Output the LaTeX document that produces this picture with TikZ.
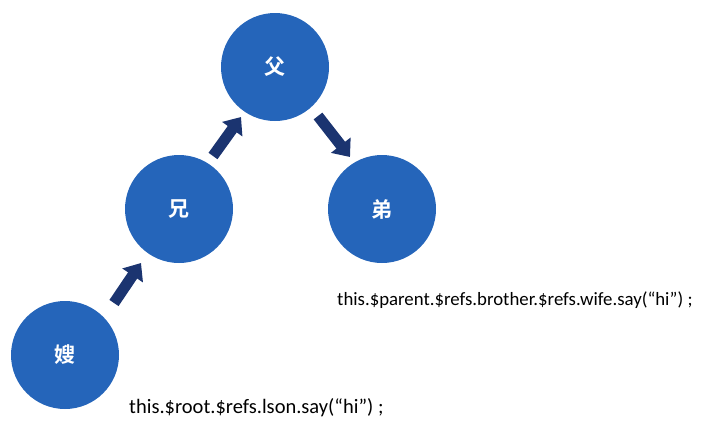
\documentclass[tikz,border=0pt]{standalone}
\usepackage{fontspec}
\setmainfont{Carlito}
\newfontfamily\cjk{Noto Sans CJK SC}[BoldFont={* Bold}]
\usetikzlibrary{arrows.meta}
\definecolor{circblue}{RGB}{37,101,186}
\definecolor{arrnavy}{RGB}{27,52,112}
\tikzset{
  person/.style={circle, fill=circblue, minimum size=108pt, inner sep=0pt, text=white, font=\cjk\bfseries\fontsize{21}{24}\selectfont},
  bigarrow/.style={draw=arrnavy, line width=11pt, -{Triangle[length=15pt 0 0,width=24pt 0 0]}},
  code/.style={anchor=west, inner sep=0pt}
}
\begin{document}
\begin{tikzpicture}[x=1pt,y=1pt]
\useasboundingbox (0,0) rectangle (701,-432);
\node[person] (fu) at (275,-67) {父};
\node[person] (xiong) at (179,-209) {兄};
\node[person] (di) at (382,-209) {弟};
\node[person] (sao) at (65,-355) {嫂};
\coordinate (a1s) at (114,-303);
\coordinate (a1e) at (141,-263);
\coordinate (a2s) at (213,-156);
\coordinate (a2e) at (241,-117);
\coordinate (a3s) at (318,-116);
\coordinate (a3e) at (350,-157);
\draw[bigarrow] (a1s) -- (a1e);
\draw[bigarrow] (a2s) -- (a2e);
\draw[bigarrow] (a3s) -- (a3e);
\node[code, font=\fontsize{18.8}{22}\selectfont] (t1) at (337,-300) {this.\$parent.\$refs.brother.\$refs.wife.say(“hi”) ;};
\node[code, font=\fontsize{20.5}{24}\selectfont] (t2) at (129,-408) {this.\$root.\$refs.lson.say(“hi”) ;};
\end{tikzpicture}
\end{document}
